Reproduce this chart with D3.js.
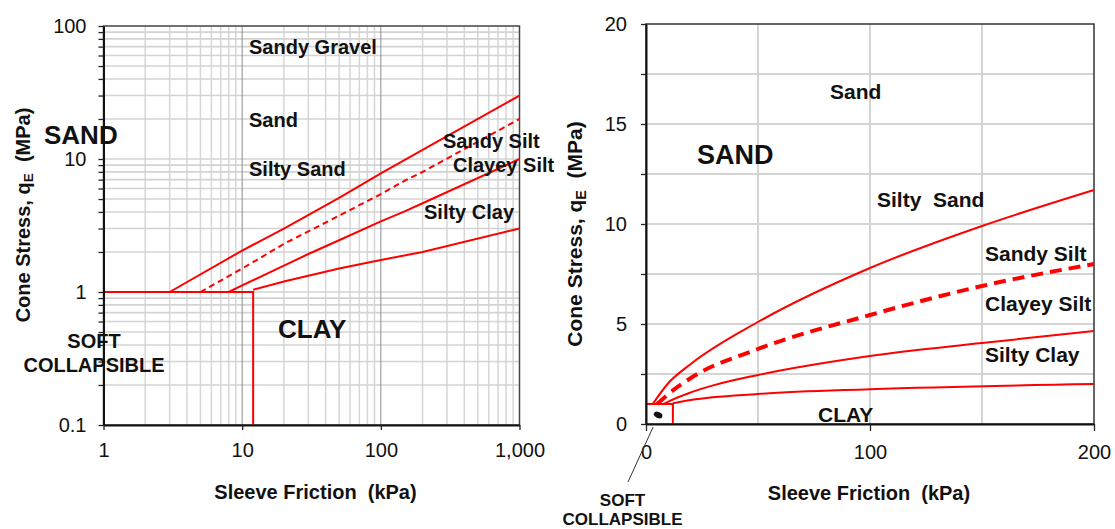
<!DOCTYPE html>
<html>
<head>
<meta charset="utf-8">
<script src="https://cdnjs.cloudflare.com/ajax/libs/d3/7.8.5/d3.min.js"></script>
<style>
    body { margin: 0; background: #fff; }
    svg text { font-family: "Liberation Sans", Arial, sans-serif; fill: #111; }
    .lbl { font-weight: bold; white-space: pre; }
</style>
</head>
<body>
<div id="myPlot"></div>
<script>
// boundary curves: sleeve friction f (kPa) -> cone stress q (MPa)
const siltySandF = [3, 10, 20, 50, 100, 150, 200, 1000]
const siltySandQ = [1, 2.05, 3.0, 5.1, 7.8, 9.9, 11.7, 30]
const sandySiltF = [5, 10, 20, 50, 100, 150, 200, 1000]
const sandySiltQ = [1, 1.5, 2.3, 3.75, 5.45, 6.9, 8.0, 20]
const clayeySiltF = [8, 10, 20, 30, 50, 100, 150, 200, 1000]
const clayeySiltQ = [1, 1.12, 1.58, 1.93, 2.45, 3.4, 4.05, 4.65, 10]
const siltyClayF = [12, 20, 50, 100, 200, 1000]
const siltyClayQ = [1.04, 1.2, 1.5, 1.74, 2.0, 3.0]
const softCeilingQ = 1
const clayLimitF = 12
const softBlob = [5.4, 0.45]

const logXTicks = [1, 10, 100, 1000]
const logYTicks = [0.1, 1, 10, 100]
const linXTicks = [0, 100, 200]
const linYTicks = [0, 2.5, 5, 7.5, 10, 12.5, 15, 17.5, 20]
const linYLabels = [0, 5, 10, 15, 20]

const xTitle = "Sleeve Friction  (kPa)"

const boundaries = [
    {f: siltySandF, q: siltySandQ, dashed: false},
    {f: sandySiltF, q: sandySiltQ, dashed: true},
    {f: clayeySiltF, q: clayeySiltQ, dashed: false},
    {f: siltyClayF, q: siltyClayQ, dashed: false}
].map(b => ({dashed: b.dashed, pts: b.f.map((f, i) => [f, b.q[i]])}))

const svg = d3.select("#myPlot").append("svg")
    .attr("width", 1115)
    .attr("height", 529)

function addLabel(g, text, x, y, size, anchor) {
    return g.append("text")
        .attr("class", "lbl")
        .attr("x", x)
        .attr("y", y)
        .attr("font-size", size)
        .attr("text-anchor", anchor || "start")
        .text(text)
}

function addYTitle(g, x, y, size) {
    const t = g.append("text")
        .attr("class", "lbl")
        .attr("font-size", size)
        .attr("text-anchor", "middle")
        .attr("transform", `translate(${x},${y}) rotate(-90)`)
    t.append("tspan").text("Cone Stress, q")
    t.append("tspan").attr("font-size", size * 0.68).attr("dy", "0.25em").text("E")
    t.append("tspan").attr("dy", "-0.17em").text("  (MPa)")
}

function styleAxis(g) {
    g.select(".domain").attr("stroke", "#111").attr("stroke-width", 2)
    g.selectAll(".tick line").attr("stroke", "#222").attr("stroke-width", 1.3)
    g.selectAll("text").attr("font-size", 20).attr("font-family", "Liberation Sans, Arial, sans-serif").attr("fill", "#1a1a1a")
}

// ---------- left: log-log chart ----------
{
    const w = 416, h = 399
    const g = svg.append("g").attr("transform", "translate(103.5,26)")
    const x = d3.scaleLog().domain([1, 1000]).range([0, w])
    const y = d3.scaleLog().domain([0.1, 100]).range([h, 0])

    const minorX = d3.range(0, 3).flatMap(e => d3.range(2, 10).map(m => +(m * 10 ** e).toPrecision(3)))
    const minorY = d3.range(-1, 2).flatMap(e => d3.range(2, 10).map(m => +(m * 10 ** e).toPrecision(3)))

    g.append("g").selectAll("line").data(minorX).join("line")
        .attr("x1", x).attr("x2", x).attr("y1", 0).attr("y2", h)
        .attr("stroke", "#d6d6d6").attr("stroke-width", 1.5)
    g.append("g").selectAll("line").data([...minorY, 1, 10]).join("line")
        .attr("y1", y).attr("y2", y).attr("x1", 0).attr("x2", w)
        .attr("stroke", "#d3d3d3").attr("stroke-width", 1.6)
    g.append("g").selectAll("line").data([10, 100]).join("line")
        .attr("x1", x).attr("x2", x).attr("y1", 0).attr("y2", h)
        .attr("stroke", "#8c8c8c").attr("stroke-width", 1)

    g.append("rect").attr("width", w).attr("height", h)
        .attr("fill", "none").attr("stroke", "#444").attr("stroke-width", 1.5)

    const line = d3.line().x(d => x(d[0])).y(d => y(d[1]))
    g.append("path")
        .attr("d", line([[1, softCeilingQ], [clayLimitF, softCeilingQ], [clayLimitF, 0.1]]))
        .attr("fill", "none").attr("stroke", "#ff0000").attr("stroke-width", 2)
    g.selectAll(".bound").data(boundaries).join("path")
        .attr("class", "bound")
        .attr("d", b => line(b.pts))
        .attr("fill", "none")
        .attr("stroke", "#ff0000")
        .attr("stroke-width", 2)
        .attr("stroke-dasharray", b => b.dashed ? "6,4" : null)

    g.append("g").attr("transform", `translate(0,${h})`)
        .call(d3.axisBottom(x).tickValues(logXTicks).tickFormat(d3.format(","))
            .tickSize(5).tickSizeOuter(0).tickPadding(13))
        .call(styleAxis)
    g.append("g")
        .call(d3.axisLeft(y).tickValues([...logYTicks, ...minorY])
            .tickFormat(d => logYTicks.includes(d) ? d3.format("~g")(d) : "")
            .tickSize(5).tickSizeOuter(0).tickPadding(12))
        .call(styleAxis)

    addLabel(g, "Sandy Gravel", 145.5, 28, 20)
    addLabel(g, "Sand", 145.5, 101, 20)
    addLabel(g, "Silty Sand", 145.5, 150, 20)
    addLabel(g, "SAND", -59.5, 118, 26)
    addLabel(g, "Sandy Silt", 339.5, 122, 20)
    addLabel(g, "Clayey Silt", 349.5, 146, 20)
    addLabel(g, "Silty Clay", 320.5, 193, 20)
    addLabel(g, "CLAY", 174.5, 312, 26)
    addLabel(g, "SOFT", -9.5, 322, 20, "middle")
    addLabel(g, "COLLAPSIBLE", -9.5, 345.5, 20, "middle")

    addLabel(g, xTitle, w / 2 + 4, 473, 20, "middle")
    addYTitle(g, -74, 189, 20)
}

// ---------- right: linear chart ----------
{
    const w = 448, h = 400
    const g = svg.append("g").attr("transform", "translate(646,24)")
    const x = d3.scaleLinear().domain([0, 200]).range([0, w])
    const y = d3.scaleLinear().domain([0, 20]).range([h, 0])

    g.append("g").selectAll("line").data([50, 100, 150]).join("line")
        .attr("x1", x).attr("x2", x).attr("y1", 0).attr("y2", h)
        .attr("stroke", "#d4d4d4").attr("stroke-width", 2)
    g.append("g").selectAll("line").data(linYTicks.filter(v => v > 0 && v < 20)).join("line")
        .attr("y1", y).attr("y2", y).attr("x1", 0).attr("x2", w)
        .attr("stroke", "#d4d4d4").attr("stroke-width", 2)

    g.append("rect").attr("width", w).attr("height", h)
        .attr("fill", "none").attr("stroke", "#333").attr("stroke-width", 1.5)

    const line = d3.line().x(d => x(d[0])).y(d => y(d[1])).curve(d3.curveMonotoneX)
    g.append("path")
        .attr("d", d3.line().x(d => x(d[0])).y(d => y(d[1]))(
            [[0, softCeilingQ], [clayLimitF, softCeilingQ], [clayLimitF, 0]]))
        .attr("fill", "none").attr("stroke", "#ff0000").attr("stroke-width", 2)
    g.selectAll(".bound").data(boundaries).join("path")
        .attr("class", "bound")
        .attr("d", b => line(b.pts.filter(p => p[0] <= 200)))
        .attr("fill", "none")
        .attr("stroke", "#ff0000")
        .attr("stroke-width", b => b.dashed ? 4 : 2)
        .attr("stroke-dasharray", b => b.dashed ? "12,7" : null)

    g.append("g").attr("transform", `translate(0,${h})`)
        .call(d3.axisBottom(x).tickValues(linXTicks).tickSize(7).tickSizeOuter(0).tickPadding(14))
        .call(styleAxis)
    g.append("g")
        .call(d3.axisLeft(y).tickValues(linYTicks)
            .tickFormat(d => linYLabels.includes(d) ? d : "")
            .tickSize(5).tickSizeOuter(0).tickPadding(14))
        .call(styleAxis)

    // soft collapsible marker and its leader
    const bx = x(softBlob[0]), by = y(softBlob[1])
    g.append("ellipse")
        .attr("transform", `translate(${bx},${by}) rotate(25)`)
        .attr("rx", 4.5).attr("ry", 3).attr("fill", "#111")
    g.append("line")
        .attr("x1", bx - 5).attr("y1", by + 12)
        .attr("x2", -18).attr("y2", 458)
        .attr("stroke", "#333").attr("stroke-width", 1)

    addLabel(g, "Sand", 184, 75, 21)
    addLabel(g, "SAND", 51, 140, 27)
    addLabel(g, "Silty  Sand", 231, 183, 21)
    addLabel(g, "Sandy Silt", 339, 237, 21)
    addLabel(g, "Clayey Silt", 339, 287, 21)
    addLabel(g, "Silty Clay", 339, 338, 21)
    addLabel(g, "CLAY", 172, 397.5, 21)
    addLabel(g, "SOFT", -23.5, 482, 17, "middle")
    addLabel(g, "COLLAPSIBLE", -23.5, 501, 17, "middle")

    addLabel(g, xTitle, 223, 476, 20, "middle")
    addYTitle(g, -64, 210, 21)
}
</script>
</body>
</html>
